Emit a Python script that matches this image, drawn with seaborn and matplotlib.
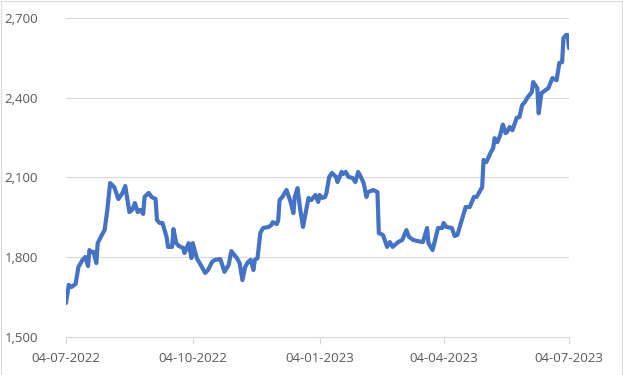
import matplotlib
matplotlib.use("Agg")
import matplotlib.pyplot as plt
import matplotlib.dates as mdates
import matplotlib.ticker as mticker
from matplotlib.patches import Rectangle
import pandas as pd
import seaborn as sns

dates = [
    "2022-07-04", "2022-07-06", "2022-07-08", "2022-07-11", "2022-07-13", "2022-07-16",
    "2022-07-18", "2022-07-20", "2022-07-21", "2022-07-22", "2022-07-24", "2022-07-26",
    "2022-07-27", "2022-07-30", "2022-08-01", "2022-08-03", "2022-08-05", "2022-08-08",
    "2022-08-11", "2022-08-14", "2022-08-16", "2022-08-19", "2022-08-21", "2022-08-23",
    "2022-08-25", "2022-08-27", "2022-08-29", "2022-08-30", "2022-09-02", "2022-09-04",
    "2022-09-07", "2022-09-08", "2022-09-10", "2022-09-12", "2022-09-15", "2022-09-16",
    "2022-09-19", "2022-09-20", "2022-09-22", "2022-09-24", "2022-09-27", "2022-09-28",
    "2022-10-01", "2022-10-03", "2022-10-04", "2022-10-07", "2022-10-09", "2022-10-13",
    "2022-10-15", "2022-10-18", "2022-10-20", "2022-10-24", "2022-10-27", "2022-10-30",
    "2022-11-01", "2022-11-02", "2022-11-05", "2022-11-07", "2022-11-09", "2022-11-11",
    "2022-11-13", "2022-11-15", "2022-11-17", "2022-11-18", "2022-11-20", "2022-11-22",
    "2022-11-24", "2022-11-28", "2022-11-30", "2022-12-01", "2022-12-04", "2022-12-05",
    "2022-12-06", "2022-12-08", "2022-12-11", "2022-12-14", "2022-12-16", "2022-12-17",
    "2022-12-19", "2022-12-21", "2022-12-23", "2022-12-25", "2022-12-27", "2022-12-29",
    "2023-01-01", "2023-01-03", "2023-01-04", "2023-01-06", "2023-01-08", "2023-01-09",
    "2023-01-11", "2023-01-13", "2023-01-16", "2023-01-17", "2023-01-20", "2023-01-21",
    "2023-01-23", "2023-01-25", "2023-01-28", "2023-01-30", "2023-02-01", "2023-02-03",
    "2023-02-05", "2023-02-07", "2023-02-08", "2023-02-12", "2023-02-15", "2023-02-16",
    "2023-02-19", "2023-02-22", "2023-02-24", "2023-02-26", "2023-03-02", "2023-03-05",
    "2023-03-08", "2023-03-10", "2023-03-13", "2023-03-16", "2023-03-20", "2023-03-23",
    "2023-03-24", "2023-03-27", "2023-03-31", "2023-04-03", "2023-04-04", "2023-04-06",
    "2023-04-10", "2023-04-12", "2023-04-14", "2023-04-20", "2023-04-23", "2023-04-26",
    "2023-04-28", "2023-05-02", "2023-05-03", "2023-05-05", "2023-05-08", "2023-05-10",
    "2023-05-11", "2023-05-13", "2023-05-15", "2023-05-17", "2023-05-19", "2023-05-20",
    "2023-05-22", "2023-05-24", "2023-05-27", "2023-05-29", "2023-05-31", "2023-06-02",
    "2023-06-04", "2023-06-07", "2023-06-08", "2023-06-11", "2023-06-12", "2023-06-14",
    "2023-06-17", "2023-06-19", "2023-06-22", "2023-06-25", "2023-06-27", "2023-06-29",
    "2023-06-30", "2023-07-02", "2023-07-03", "2023-07-04",
]

values = [
    1628, 1696, 1688, 1700, 1763, 1790,
    1801, 1767, 1827, 1820, 1820, 1778,
    1853, 1884, 1902, 1978, 2079, 2064,
    2019, 2042, 2068, 1970, 1978, 2004,
    1970, 1978, 1963, 2027, 2042, 2027,
    2019, 1940, 1929, 1929, 1876, 1839,
    1839, 1906, 1853, 1842, 1835, 1816,
    1853, 1797, 1853, 1795, 1778, 1741,
    1752, 1782, 1790, 1793, 1745, 1771,
    1823, 1816, 1797, 1778, 1714, 1763,
    1782, 1790, 1752, 1790, 1797, 1891,
    1910, 1914, 1921, 1932, 1925, 1940,
    2015, 2027, 2053, 2008, 1966, 2027,
    2060, 1978, 1914, 1970, 2023, 2015,
    2034, 2008, 2034, 2023, 2027, 2042,
    2102, 2117, 2102, 2083, 2121, 2113,
    2121, 2102, 2098, 2083, 2121, 2102,
    2079, 2027, 2045, 2053, 2045, 1891,
    1884, 1839, 1857, 1839, 1857, 1865,
    1902, 1876, 1865, 1861, 1857, 1910,
    1853, 1827, 1910, 1910, 1929, 1914,
    1910, 1880, 1884, 1989, 1989, 2027,
    2027, 2064, 2166, 2158, 2192, 2211,
    2248, 2233, 2259, 2299, 2267, 2271,
    2290, 2278, 2324, 2327, 2372, 2384,
    2402, 2421, 2459, 2436, 2342, 2417,
    2429, 2436, 2474, 2466, 2531, 2534,
    2625, 2636, 2636, 2587,
]

tick_dates = ["2022-07-04", "2022-10-04", "2023-01-04", "2023-04-04", "2023-07-04"]
y_ticks = [1500, 1800, 2100, 2400, 2700]

df = pd.DataFrame({"date": pd.to_datetime(dates), "value": values})

sns.set_theme(style="white")
plt.rcParams["font.family"] = ["Open Sans", "DejaVu Sans"]

W, H = 623, 375
fig = plt.figure(figsize=(W / 100, H / 100), dpi=100)
ax = fig.add_axes([66 / W, 1 - 337 / H, (569 - 66) / W, (337 - 18) / H])

sns.lineplot(data=df, x="date", y="value", ax=ax, color="#4472C4",
             linewidth=3.0, solid_joinstyle="round", solid_capstyle="round")

ax.set_xlim(pd.Timestamp(tick_dates[0]), pd.Timestamp(tick_dates[-1]))
ax.set_ylim(y_ticks[0], y_ticks[-1])
ax.set_yticks(y_ticks)
ax.yaxis.set_major_formatter(mticker.FuncFormatter(lambda v, p: f"{int(v):,}"))
ax.set_xticks(pd.to_datetime(tick_dates))
ax.xaxis.set_major_formatter(mdates.DateFormatter("%d-%m-%Y"))

ax.grid(axis="y", color="#d9d9d9", linewidth=0.8)
ax.set_axisbelow(True)
for s in ["top", "right", "left"]:
    ax.spines[s].set_visible(False)
ax.spines["bottom"].set_color("#d9d9d9")
ax.spines["bottom"].set_linewidth(0.8)
ax.tick_params(axis="x", which="major", bottom=True, length=5, width=0.8,
               color="#d9d9d9", labelsize=9.5, labelcolor="#595959", pad=6)
ax.tick_params(axis="y", left=False, labelsize=9.5, labelcolor="#595959", pad=14)
ax.set_xlabel("")
ax.set_ylabel("")

fig.patches.append(Rectangle((0.5 / W, 0.5 / H), 1 - 1.5 / W, 1 - 1.5 / H,
                             transform=fig.transFigure, fill=False,
                             edgecolor="#d9d9d9", linewidth=0.8))

fig.savefig("out.png", dpi=100)
